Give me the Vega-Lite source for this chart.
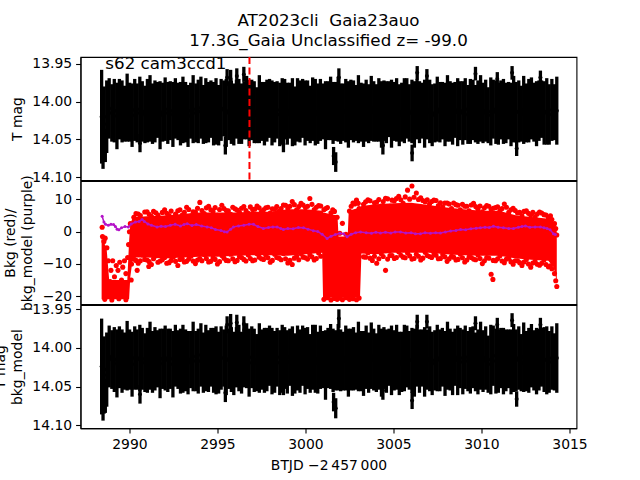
{
"$schema":"https://vega.github.io/schema/vega-lite/v6.json",
"background":"white",
"padding":{"left":-7.5,"top":13,"right":0,"bottom":0},
"bounds":"flush",
"spacing":0,
"title":{"text":["AT2023cli \u00a0Gaia23auo","17.3G_Gaia Unclassified z= -99.0"],"anchor":"middle","frame":"group","fontSize":16.7,"font":"DejaVu Sans","fontWeight":"normal","lineHeight":20,"offset":5.5,"color":"black"},
"datasets":{
"lc":[
{"t":2988.42,"m":14.020,"e":0.062,"n":14.024},{"t":2988.56,"m":14.030,"e":0.050,"n":14.035},{"t":2988.71,"m":14.020,"e":0.048,"n":14.028},{"t":2988.85,"m":14.009,"e":0.040,"n":14.011},{"t":2989.00,"m":14.015,"e":0.038,"n":14.015},
{"t":2989.14,"m":14.012,"e":0.042,"n":14.015},{"t":2989.29,"m":14.019,"e":0.044,"n":14.020},{"t":2989.43,"m":14.010,"e":0.040,"n":14.012},{"t":2989.58,"m":14.013,"e":0.041,"n":14.017},{"t":2989.72,"m":14.016,"e":0.037,"n":14.017},
{"t":2989.87,"m":14.008,"e":0.045,"n":14.010},{"t":2990.01,"m":14.014,"e":0.039,"n":14.015},{"t":2990.15,"m":14.018,"e":0.042,"n":14.021},{"t":2990.30,"m":14.011,"e":0.041,"n":14.013},{"t":2990.44,"m":14.015,"e":0.039,"n":14.015},
{"t":2990.59,"m":14.010,"e":0.043,"n":14.013},{"t":2990.73,"m":14.013,"e":0.040,"n":14.014},{"t":2990.88,"m":14.017,"e":0.038,"n":14.019},{"t":2991.02,"m":14.012,"e":0.042,"n":14.016},{"t":2991.17,"m":14.009,"e":0.044,"n":14.010},
{"t":2991.31,"m":14.016,"e":0.040,"n":14.018},{"t":2991.45,"m":14.013,"e":0.041,"n":14.014},{"t":2991.60,"m":14.011,"e":0.037,"n":14.014},{"t":2991.74,"m":14.018,"e":0.045,"n":14.020},{"t":2991.89,"m":14.014,"e":0.039,"n":14.014},
{"t":2992.03,"m":14.010,"e":0.042,"n":14.013},{"t":2992.18,"m":14.015,"e":0.041,"n":14.016},{"t":2992.32,"m":14.012,"e":0.039,"n":14.014},{"t":2992.47,"m":14.017,"e":0.043,"n":14.021},{"t":2992.61,"m":14.009,"e":0.040,"n":14.010},
{"t":2992.76,"m":14.013,"e":0.038,"n":14.015},{"t":2992.90,"m":14.016,"e":0.042,"n":14.017},{"t":2993.04,"m":14.011,"e":0.044,"n":14.014},{"t":2993.19,"m":14.014,"e":0.040,"n":14.016},{"t":2993.33,"m":14.019,"e":0.041,"n":14.019},
{"t":2993.48,"m":14.012,"e":0.037,"n":14.015},{"t":2993.62,"m":14.010,"e":0.045,"n":14.011},{"t":2993.77,"m":14.015,"e":0.039,"n":14.017},{"t":2993.91,"m":14.013,"e":0.042,"n":14.017},{"t":2994.06,"m":14.008,"e":0.041,"n":14.009},
{"t":2994.20,"m":14.017,"e":0.039,"n":14.019},{"t":2994.34,"m":14.012,"e":0.043,"n":14.013},{"t":2994.49,"m":14.014,"e":0.040,"n":14.017},{"t":2994.63,"m":14.010,"e":0.038,"n":14.012},{"t":2994.78,"m":14.016,"e":0.042,"n":14.016},
{"t":2994.92,"m":14.013,"e":0.044,"n":14.016},{"t":2995.07,"m":14.018,"e":0.040,"n":14.019},{"t":2995.21,"m":14.011,"e":0.041,"n":14.013},{"t":2995.36,"m":14.009,"e":0.037,"n":14.013},{"t":2995.50,"m":14.015,"e":0.045,"n":14.016},
{"t":2995.65,"m":14.012,"e":0.039,"n":14.014},{"t":2995.79,"m":14.014,"e":0.042,"n":14.015},{"t":2995.93,"m":14.017,"e":0.041,"n":14.020},{"t":2996.08,"m":14.010,"e":0.039,"n":14.012},{"t":2996.22,"m":14.013,"e":0.043,"n":14.013},
{"t":2996.37,"m":14.016,"e":0.040,"n":14.019},{"t":2996.51,"m":14.012,"e":0.038,"n":14.013},{"t":2996.66,"m":14.008,"e":0.042,"n":14.010},{"t":2996.80,"m":14.015,"e":0.044,"n":14.019},{"t":2996.95,"m":14.011,"e":0.040,"n":14.012},
{"t":2997.09,"m":14.014,"e":0.041,"n":14.016},{"t":2997.23,"m":14.018,"e":0.037,"n":14.019},{"t":2997.38,"m":14.010,"e":0.045,"n":14.013},{"t":2997.52,"m":14.013,"e":0.039,"n":14.015},{"t":2997.67,"m":14.016,"e":0.042,"n":14.016},
{"t":2997.81,"m":14.012,"e":0.041,"n":14.015},{"t":2997.96,"m":14.009,"e":0.039,"n":14.010},{"t":2998.10,"m":14.015,"e":0.043,"n":14.017},{"t":2998.25,"m":14.014,"e":0.040,"n":14.018},{"t":2998.39,"m":14.011,"e":0.038,"n":14.012},
{"t":2998.54,"m":14.017,"e":0.042,"n":14.019},{"t":2998.68,"m":14.013,"e":0.044,"n":14.014},{"t":2998.82,"m":14.010,"e":0.040,"n":14.013},{"t":2998.97,"m":14.016,"e":0.041,"n":14.018},{"t":2999.11,"m":14.012,"e":0.037,"n":14.012},
{"t":2999.26,"m":14.014,"e":0.045,"n":14.017},{"t":2999.40,"m":14.019,"e":0.039,"n":14.020},{"t":2999.55,"m":14.011,"e":0.042,"n":14.013},{"t":2999.69,"m":14.013,"e":0.041,"n":14.017},{"t":2999.84,"m":14.009,"e":0.039,"n":14.010},
{"t":2999.98,"m":14.015,"e":0.043,"n":14.017},{"t":3000.12,"m":14.012,"e":0.040,"n":14.013},{"t":3000.27,"m":14.017,"e":0.038,"n":14.020},{"t":3000.41,"m":14.010,"e":0.042,"n":14.012},{"t":3000.56,"m":14.014,"e":0.044,"n":14.014},
{"t":3000.70,"m":14.016,"e":0.040,"n":14.019},{"t":3000.85,"m":14.011,"e":0.041,"n":14.012},{"t":3000.99,"m":14.013,"e":0.037,"n":14.015},{"t":3001.14,"m":14.018,"e":0.045,"n":14.022},{"t":3001.28,"m":14.012,"e":0.039,"n":14.013},
{"t":3001.43,"m":14.009,"e":0.042,"n":14.011},{"t":3001.57,"m":14.015,"e":0.041,"n":14.016},{"t":3001.71,"m":14.013,"e":0.039,"n":14.016},{"t":3001.86,"m":14.010,"e":0.043,"n":14.012},{"t":3002.00,"m":14.016,"e":0.040,"n":14.016},
{"t":3002.15,"m":14.014,"e":0.038,"n":14.017},{"t":3002.29,"m":14.012,"e":0.042,"n":14.013},{"t":3002.44,"m":14.017,"e":0.044,"n":14.019},{"t":3002.58,"m":14.011,"e":0.040,"n":14.015},{"t":3002.73,"m":14.013,"e":0.041,"n":14.014},
{"t":3002.87,"m":14.015,"e":0.037,"n":14.017},{"t":3003.01,"m":14.010,"e":0.045,"n":14.011},{"t":3003.16,"m":14.014,"e":0.039,"n":14.017},{"t":3003.30,"m":14.018,"e":0.042,"n":14.020},{"t":3003.45,"m":14.012,"e":0.041,"n":14.012},
{"t":3003.59,"m":14.016,"e":0.039,"n":14.019},{"t":3003.74,"m":14.009,"e":0.043,"n":14.010},{"t":3003.88,"m":14.013,"e":0.040,"n":14.015},{"t":3004.03,"m":14.015,"e":0.038,"n":14.019},{"t":3004.17,"m":14.011,"e":0.042,"n":14.012},
{"t":3004.32,"m":14.017,"e":0.044,"n":14.019},{"t":3004.46,"m":14.012,"e":0.040,"n":14.013},{"t":3004.60,"m":14.014,"e":0.041,"n":14.017},{"t":3004.75,"m":14.010,"e":0.037,"n":14.012},{"t":3004.89,"m":14.016,"e":0.045,"n":14.016},
{"t":3005.04,"m":14.013,"e":0.039,"n":14.016},{"t":3005.18,"m":14.011,"e":0.042,"n":14.012},{"t":3005.33,"m":14.018,"e":0.041,"n":14.020},{"t":3005.47,"m":14.014,"e":0.039,"n":14.018},{"t":3005.62,"m":14.012,"e":0.043,"n":14.013},
{"t":3005.76,"m":14.009,"e":0.040,"n":14.011},{"t":3005.90,"m":14.015,"e":0.038,"n":14.016},{"t":3006.05,"m":14.013,"e":0.042,"n":14.016},{"t":3006.19,"m":14.017,"e":0.044,"n":14.019},{"t":3006.34,"m":14.010,"e":0.040,"n":14.010},
{"t":3006.48,"m":14.014,"e":0.041,"n":14.017},{"t":3006.63,"m":14.012,"e":0.037,"n":14.013},{"t":3006.77,"m":14.016,"e":0.045,"n":14.018},{"t":3006.92,"m":14.011,"e":0.039,"n":14.015},{"t":3007.06,"m":14.013,"e":0.042,"n":14.014},
{"t":3007.20,"m":14.018,"e":0.041,"n":14.020},{"t":3007.35,"m":14.015,"e":0.039,"n":14.016},{"t":3007.49,"m":14.010,"e":0.043,"n":14.013},{"t":3007.64,"m":14.014,"e":0.040,"n":14.016},{"t":3007.78,"m":14.012,"e":0.038,"n":14.012},
{"t":3007.93,"m":14.017,"e":0.042,"n":14.020},{"t":3008.07,"m":14.009,"e":0.044,"n":14.010},{"t":3008.22,"m":14.013,"e":0.040,"n":14.015},{"t":3008.36,"m":14.016,"e":0.041,"n":14.020},{"t":3008.50,"m":14.011,"e":0.037,"n":14.012},
{"t":3008.65,"m":14.014,"e":0.045,"n":14.016},{"t":3008.79,"m":14.012,"e":0.039,"n":14.013},{"t":3008.94,"m":14.015,"e":0.042,"n":14.018},{"t":3009.08,"m":14.010,"e":0.041,"n":14.012},{"t":3009.23,"m":14.017,"e":0.039,"n":14.017},
{"t":3009.37,"m":14.013,"e":0.043,"n":14.016},{"t":3009.52,"m":14.011,"e":0.040,"n":14.012},{"t":3009.66,"m":14.016,"e":0.038,"n":14.018},{"t":3009.80,"m":14.014,"e":0.042,"n":14.018},{"t":3009.95,"m":14.009,"e":0.044,"n":14.010},
{"t":3010.09,"m":14.015,"e":0.040,"n":14.017},{"t":3010.24,"m":14.012,"e":0.041,"n":14.013},{"t":3010.38,"m":14.018,"e":0.037,"n":14.021},{"t":3010.53,"m":14.013,"e":0.045,"n":14.015},{"t":3010.67,"m":14.010,"e":0.039,"n":14.010},
{"t":3010.82,"m":14.014,"e":0.042,"n":14.017},{"t":3010.96,"m":14.016,"e":0.041,"n":14.017},{"t":3011.10,"m":14.011,"e":0.039,"n":14.013},{"t":3011.25,"m":14.013,"e":0.043,"n":14.017},{"t":3011.39,"m":14.015,"e":0.040,"n":14.016},
{"t":3011.54,"m":14.012,"e":0.038,"n":14.014},{"t":3011.68,"m":14.017,"e":0.042,"n":14.018},{"t":3011.83,"m":14.010,"e":0.044,"n":14.013},{"t":3011.97,"m":14.014,"e":0.040,"n":14.016},{"t":3012.12,"m":14.013,"e":0.041,"n":14.013},
{"t":3012.26,"m":14.016,"e":0.037,"n":14.019},{"t":3012.40,"m":14.011,"e":0.045,"n":14.012},{"t":3012.55,"m":14.015,"e":0.039,"n":14.017},{"t":3012.69,"m":14.012,"e":0.042,"n":14.016},{"t":3012.84,"m":14.009,"e":0.041,"n":14.010},
{"t":3012.98,"m":14.014,"e":0.039,"n":14.016},{"t":3013.13,"m":14.016,"e":0.043,"n":14.017},{"t":3013.27,"m":14.012,"e":0.040,"n":14.015},{"t":3013.42,"m":14.010,"e":0.038,"n":14.012},{"t":3013.56,"m":14.015,"e":0.042,"n":14.015},
{"t":3013.71,"m":14.013,"e":0.044,"n":14.016},{"t":3013.85,"m":14.017,"e":0.040,"n":14.018},{"t":3014.00,"m":14.011,"e":0.041,"n":14.013},{"t":3014.14,"m":14.014,"e":0.037,"n":14.018},{"t":3014.28,"m":14.012,"e":0.045,"n":14.013},
{"t":2988.50,"m":14.065,"e":0.024,"n":14.070},{"t":2988.63,"m":14.058,"e":0.022,"n":14.062},{"t":2990.60,"m":14.055,"e":0.012,"n":14.060},{"t":2995.45,"m":14.058,"e":0.012,"n":14.058},{"t":2995.55,"m":13.968,"e":0.011,"n":13.970},
{"t":2995.75,"m":13.970,"e":0.012,"n":13.968},{"t":2996.10,"m":13.966,"e":0.010,"n":13.967},{"t":2996.50,"m":13.964,"e":0.010,"n":13.969},{"t":2998.75,"m":14.056,"e":0.011,"n":14.050},{"t":3001.60,"m":14.072,"e":0.012,"n":14.070},
{"t":3001.72,"m":14.080,"e":0.013,"n":14.078},{"t":3001.90,"m":13.968,"e":0.012,"n":13.962},{"t":3004.40,"m":14.058,"e":0.012,"n":14.055},{"t":3006.06,"m":14.068,"e":0.011,"n":14.068},{"t":3006.35,"m":13.962,"e":0.009,"n":13.966},
{"t":3006.90,"m":13.966,"e":0.009,"n":13.966},{"t":3009.66,"m":13.963,"e":0.009,"n":13.968},{"t":3010.90,"m":13.970,"e":0.009,"n":13.970},{"t":3011.74,"m":13.962,"e":0.009,"n":13.964},{"t":3012.00,"m":14.062,"e":0.010,"n":14.066},
{"t":3013.35,"m":13.968,"e":0.009,"n":13.970}
],
"band":[
{"t":2988.42,"lo":-21.0,"hi":-2.0},{"t":2988.70,"lo":-21.0,"hi":-5.0},{"t":2988.85,"lo":-21.0,"hi":-15.0},{"t":2989.88,"lo":-21.0,"hi":-15.0},{"t":2989.98,"lo":-21.0,"hi":-3.0},
{"t":2990.05,"lo":-14.0,"hi":2.5},{"t":2990.20,"lo":-8.0,"hi":4.5},{"t":2991.0,"lo":-8.0,"hi":4.8},{"t":2992.0,"lo":-8.3,"hi":5.0},{"t":2993.0,"lo":-8.0,"hi":5.5},
{"t":2994.0,"lo":-7.8,"hi":6.0},{"t":2995.0,"lo":-7.8,"hi":6.0},{"t":2996.0,"lo":-7.5,"hi":6.0},{"t":2997.0,"lo":-7.3,"hi":6.2},{"t":2998.0,"lo":-7.3,"hi":6.2},
{"t":2999.0,"lo":-7.5,"hi":7.0},{"t":3000.0,"lo":-7.0,"hi":7.0},{"t":3000.95,"lo":-6.5,"hi":6.5},{"t":3001.00,"lo":-20.5,"hi":6.0},{"t":3001.82,"lo":-20.5,"hi":5.0},
{"t":3001.88,"lo":-20.5,"hi":-1.5},{"t":3002.40,"lo":-20.5,"hi":-1.5},{"t":3002.46,"lo":-20.5,"hi":6.5},{"t":3003.10,"lo":-20.5,"hi":7.5},{"t":3003.18,"lo":-6.8,"hi":8.0},
{"t":3004.0,"lo":-7.0,"hi":8.5},{"t":3005.0,"lo":-6.5,"hi":8.8},{"t":3006.0,"lo":-6.5,"hi":9.0},{"t":3007.0,"lo":-6.5,"hi":8.3},{"t":3008.0,"lo":-7.0,"hi":7.5},
{"t":3009.0,"lo":-7.3,"hi":7.0},{"t":3010.0,"lo":-7.5,"hi":6.5},{"t":3011.0,"lo":-7.5,"hi":6.5},{"t":3012.0,"lo":-8.3,"hi":5.0},{"t":3013.0,"lo":-8.8,"hi":4.5},
{"t":3013.8,"lo":-9.0,"hi":4.0},{"t":3014.1,"lo":-11.0,"hi":3.0},{"t":3014.28,"lo":-15.5,"hi":0.0}
],
"bkg":[
{"t":2988.45,"b":1.4},{"t":2988.47,"b":-1.5},{"t":2988.55,"b":-3.0},{"t":2988.62,"b":-2.0},{"t":2988.72,"b":-5.0},{"t":2988.80,"b":-9.0},{"t":2988.95,"b":-12.0},{"t":2989.05,"b":-9.0},
{"t":2989.15,"b":-14.0},{"t":2989.25,"b":-10.5},{"t":2989.35,"b":-12.0},{"t":2989.45,"b":-9.5},{"t":2989.55,"b":-15.0},{"t":2989.62,"b":-11.0},{"t":2989.72,"b":-9.0},{"t":2989.80,"b":-13.0},
{"t":2989.90,"b":-8.0},{"t":2989.95,"b":-4.0},{"t":2990.00,"b":0.0},{"t":2990.05,"b":2.5},{"t":2989.10,"b":-17.0},{"t":2989.50,"b":-17.0},{"t":2988.90,"b":-15.5},{"t":2989.70,"b":-16.5},
{"t":2988.60,"b":-21.0},{"t":2989.00,"b":-21.2},{"t":2989.40,"b":-20.8},{"t":2989.80,"b":-21.1},{"t":2990.10,"b":-15.0},{"t":2990.12,"b":-10.0},{"t":2990.44,"b":-12.0},{"t":2991.10,"b":-10.8},
{"t":2990.25,"b":4.5},{"t":2990.25,"b":-8.5},{"t":2990.50,"b":5.5},{"t":2990.50,"b":-9.8},{"t":2990.75,"b":3.8},{"t":2990.75,"b":-7.2},{"t":2991.00,"b":6.2},{"t":2991.00,"b":-8.8},
{"t":2991.25,"b":4.8},{"t":2991.25,"b":-10.2},{"t":2991.50,"b":5.9},{"t":2991.50,"b":-7.5},{"t":2991.75,"b":4.2},{"t":2991.75,"b":-9.1},{"t":2992.00,"b":6.8},{"t":2992.00,"b":-8.0},
{"t":2992.25,"b":5.0},{"t":2992.25,"b":-9.6},{"t":2992.50,"b":4.4},{"t":2992.50,"b":-7.8},{"t":2992.75,"b":6.5},{"t":2992.75,"b":-10.5},{"t":2993.00,"b":5.2},{"t":2993.00,"b":-8.4},
{"t":2993.25,"b":7.6},{"t":2993.25,"b":-9.2},{"t":2993.50,"b":4.9},{"t":2993.50,"b":-7.6},{"t":2993.75,"b":6.1},{"t":2993.75,"b":-9.9},{"t":2994.00,"b":9.1},{"t":2994.00,"b":-8.3},
{"t":2994.25,"b":5.6},{"t":2994.25,"b":-7.1},{"t":2994.50,"b":7.9},{"t":2994.50,"b":-9.4},{"t":2994.75,"b":6.3},{"t":2994.75,"b":-8.1},{"t":2995.00,"b":5.1},{"t":2995.00,"b":-10.0},
{"t":2995.25,"b":8.2},{"t":2995.25,"b":-7.4},{"t":2995.50,"b":6.6},{"t":2995.50,"b":-8.9},{"t":2995.75,"b":5.4},{"t":2995.75,"b":-7.0},{"t":2996.00,"b":7.1},{"t":2996.00,"b":-9.3},
{"t":2996.25,"b":6.0},{"t":2996.25,"b":-7.7},{"t":2996.50,"b":7.8},{"t":2996.50,"b":-8.6},{"t":2996.75,"b":5.7},{"t":2996.75,"b":-7.2},{"t":2997.00,"b":6.9},{"t":2997.00,"b":-9.0},
{"t":2997.25,"b":8.0},{"t":2997.25,"b":-6.9},{"t":2997.50,"b":6.2},{"t":2997.50,"b":-8.4},{"t":2997.75,"b":7.4},{"t":2997.75,"b":-7.3},{"t":2998.00,"b":5.8},{"t":2998.00,"b":-9.5},
{"t":2998.25,"b":7.0},{"t":2998.25,"b":-7.0},{"t":2998.50,"b":6.4},{"t":2998.50,"b":-8.2},{"t":2998.75,"b":8.3},{"t":2998.75,"b":-6.8},{"t":2999.00,"b":7.2},{"t":2999.00,"b":-9.7},
{"t":2999.25,"b":9.4},{"t":2999.25,"b":-10.2},{"t":2999.50,"b":6.8},{"t":2999.50,"b":-7.6},{"t":2999.75,"b":8.8},{"t":2999.75,"b":-6.9},{"t":3000.00,"b":7.5},{"t":3000.00,"b":-8.1},
{"t":3000.25,"b":10.3},{"t":3000.25,"b":-7.2},{"t":3000.50,"b":6.9},{"t":3000.50,"b":-8.8},{"t":3000.75,"b":8.1},{"t":3000.75,"b":-6.6},
{"t":3001.05,"b":6.8},{"t":3001.05,"b":-21.0},{"t":3001.25,"b":7.5},{"t":3001.25,"b":-20.5},{"t":3001.45,"b":5.9},{"t":3001.45,"b":-21.2},{"t":3001.65,"b":6.3},{"t":3001.65,"b":-20.7},
{"t":3001.80,"b":4.5},{"t":3001.80,"b":-21.0},{"t":3001.95,"b":-0.5},{"t":3001.95,"b":-20.6},{"t":3002.10,"b":2.6},{"t":3002.10,"b":-21.1},{"t":3002.30,"b":-0.8},{"t":3002.30,"b":-20.5},
{"t":3002.50,"b":6.4},{"t":3002.50,"b":-21.0},{"t":3002.70,"b":8.9},{"t":3002.70,"b":-20.8},{"t":3002.90,"b":9.8},{"t":3002.90,"b":-21.1},{"t":3003.05,"b":7.2},{"t":3003.05,"b":-20.6},
{"t":3003.30,"b":8.5},{"t":3003.30,"b":-7.8},{"t":3003.55,"b":9.9},{"t":3003.55,"b":-6.5},{"t":3003.80,"b":7.6},{"t":3003.80,"b":-8.9},{"t":3004.05,"b":9.2},{"t":3004.05,"b":-9.8},
{"t":3004.30,"b":8.0},{"t":3004.30,"b":-6.8},{"t":3004.55,"b":10.4},{"t":3004.55,"b":-12.0},{"t":3004.80,"b":7.9},{"t":3004.80,"b":-7.4},{"t":3005.05,"b":9.6},{"t":3005.05,"b":-8.3},
{"t":3005.30,"b":11.0},{"t":3005.30,"b":-6.2},{"t":3005.55,"b":8.8},{"t":3005.55,"b":-7.9},{"t":3005.80,"b":12.9},{"t":3005.80,"b":-6.6},{"t":3006.05,"b":14.2},{"t":3006.05,"b":-8.5},
{"t":3006.30,"b":12.0},{"t":3006.30,"b":-7.0},{"t":3006.55,"b":10.5},{"t":3006.55,"b":-8.8},{"t":3006.80,"b":9.3},{"t":3006.80,"b":-6.4},{"t":3007.05,"b":8.6},{"t":3007.05,"b":-7.7},
{"t":3007.30,"b":9.8},{"t":3007.30,"b":-6.9},{"t":3007.55,"b":8.1},{"t":3007.55,"b":-8.4},{"t":3007.80,"b":7.7},{"t":3007.80,"b":-7.1},{"t":3008.05,"b":8.9},{"t":3008.05,"b":-9.2},
{"t":3008.30,"b":7.2},{"t":3008.30,"b":-7.6},{"t":3008.55,"b":8.4},{"t":3008.55,"b":-8.8},{"t":3008.80,"b":6.8},{"t":3008.80,"b":-7.0},{"t":3009.05,"b":7.9},{"t":3009.05,"b":-9.4},
{"t":3009.30,"b":6.5},{"t":3009.30,"b":-7.8},{"t":3009.55,"b":8.8},{"t":3009.55,"b":-8.5},{"t":3009.80,"b":7.0},{"t":3009.80,"b":-7.2},{"t":3010.05,"b":6.2},{"t":3010.05,"b":-9.9},
{"t":3010.30,"b":8.1},{"t":3010.30,"b":-8.0},{"t":3010.55,"b":6.9},{"t":3010.55,"b":-13.2},{"t":3010.65,"b":5.6},{"t":3010.65,"b":-14.8},{"t":3010.80,"b":7.5},{"t":3010.80,"b":-9.0},
{"t":3011.05,"b":6.4},{"t":3011.05,"b":-7.5},{"t":3011.30,"b":8.6},{"t":3011.30,"b":-9.6},{"t":3011.55,"b":6.0},{"t":3011.55,"b":-8.2},{"t":3011.80,"b":7.3},{"t":3011.80,"b":-10.1},
{"t":3012.05,"b":5.8},{"t":3012.05,"b":-9.0},{"t":3012.30,"b":4.9},{"t":3012.30,"b":-10.5},{"t":3012.55,"b":6.5},{"t":3012.55,"b":-8.6},{"t":3012.80,"b":5.2},{"t":3012.80,"b":-11.0},
{"t":3013.05,"b":4.6},{"t":3013.05,"b":-9.3},{"t":3013.30,"b":6.1},{"t":3013.30,"b":-10.4},{"t":3013.55,"b":5.3},{"t":3013.55,"b":-8.8},{"t":3013.80,"b":4.4},{"t":3013.80,"b":-10.9},
{"t":3014.00,"b":3.8},{"t":3014.00,"b":-11.5},{"t":3014.15,"b":2.5},{"t":3014.15,"b":-13.0},{"t":3014.22,"b":1.0},{"t":3014.22,"b":-15.2},{"t":3014.28,"b":-1.0},{"t":3014.28,"b":-17.0},
{"t":2990.37,"b":5.6},{"t":2990.37,"b":-8.9},{"t":2990.62,"b":5.0},{"t":2990.62,"b":-9.0},{"t":2990.87,"b":6.1},{"t":2990.87,"b":-8.6},{"t":2991.12,"b":5.4},{"t":2991.12,"b":-9.3},
{"t":2991.37,"b":6.3},{"t":2991.37,"b":-8.4},{"t":2991.62,"b":5.2},{"t":2991.62,"b":-9.5},{"t":2991.87,"b":6.0},{"t":2991.87,"b":-8.7},{"t":2992.12,"b":5.7},{"t":2992.12,"b":-9.8},
{"t":2992.37,"b":6.4},{"t":2992.37,"b":-8.9},{"t":2992.62,"b":5.5},{"t":2992.62,"b":-9.2},{"t":2992.87,"b":6.8},{"t":2992.87,"b":-8.6},{"t":2993.12,"b":6.0},{"t":2993.12,"b":-9.4},
{"t":2993.37,"b":6.9},{"t":2993.37,"b":-8.5},{"t":2993.62,"b":6.2},{"t":2993.62,"b":-9.1},{"t":2993.87,"b":7.3},{"t":2993.87,"b":-8.8},{"t":2994.12,"b":6.6},{"t":2994.12,"b":-9.0},
{"t":2994.37,"b":7.4},{"t":2994.37,"b":-8.3},{"t":2994.62,"b":6.8},{"t":2994.62,"b":-9.2},{"t":2994.87,"b":7.5},{"t":2994.87,"b":-8.6},{"t":2995.12,"b":6.9},{"t":2995.12,"b":-9.3},
{"t":2995.37,"b":7.2},{"t":2995.37,"b":-8.2},{"t":2995.62,"b":6.5},{"t":2995.62,"b":-9.0},{"t":2995.87,"b":7.6},{"t":2995.87,"b":-8.4},{"t":2996.12,"b":6.7},{"t":2996.12,"b":-8.9},
{"t":2996.37,"b":7.3},{"t":2996.37,"b":-8.0},{"t":2996.62,"b":6.6},{"t":2996.62,"b":-9.1},{"t":2996.87,"b":7.7},{"t":2996.87,"b":-8.3},{"t":2997.12,"b":7.0},{"t":2997.12,"b":-8.8},
{"t":2997.37,"b":7.4},{"t":2997.37,"b":-7.9},{"t":2997.62,"b":6.8},{"t":2997.62,"b":-8.6},{"t":2997.87,"b":7.6},{"t":2997.87,"b":-8.1},{"t":2998.12,"b":7.1},{"t":2998.12,"b":-8.9},
{"t":2998.37,"b":7.8},{"t":2998.37,"b":-8.0},{"t":2998.62,"b":7.2},{"t":2998.62,"b":-8.7},{"t":2998.87,"b":8.2},{"t":2998.87,"b":-8.4},{"t":2999.12,"b":7.9},{"t":2999.12,"b":-8.9},
{"t":2999.37,"b":8.4},{"t":2999.37,"b":-8.2},{"t":2999.62,"b":7.8},{"t":2999.62,"b":-8.7},{"t":2999.87,"b":8.3},{"t":2999.87,"b":-7.9},{"t":3000.12,"b":7.9},{"t":3000.12,"b":-8.5},
{"t":3000.37,"b":8.5},{"t":3000.37,"b":-7.8},{"t":3000.62,"b":7.6},{"t":3000.62,"b":-8.3},{"t":3000.87,"b":8.0},{"t":3000.87,"b":-7.6},
{"t":3001.15,"b":7.2},{"t":3001.55,"b":6.8},{"t":3002.60,"b":7.9},{"t":3002.80,"b":8.6},{"t":3003.00,"b":8.8},
{"t":3003.42,"b":9.3},{"t":3003.42,"b":-7.9},{"t":3003.67,"b":9.6},{"t":3003.67,"b":-8.2},{"t":3003.92,"b":9.0},{"t":3003.92,"b":-7.6},{"t":3004.17,"b":10.0},{"t":3004.17,"b":-8.4},
{"t":3004.42,"b":9.4},{"t":3004.42,"b":-7.7},{"t":3004.67,"b":10.2},{"t":3004.67,"b":-8.5},{"t":3004.92,"b":9.8},{"t":3004.92,"b":-7.4},{"t":3005.17,"b":10.3},{"t":3005.17,"b":-8.0},
{"t":3005.42,"b":9.9},{"t":3005.42,"b":-7.3},{"t":3005.67,"b":10.8},{"t":3005.67,"b":-8.1},{"t":3005.92,"b":10.1},{"t":3005.92,"b":-7.5},{"t":3006.17,"b":10.7},{"t":3006.17,"b":-8.3},
{"t":3006.42,"b":10.0},{"t":3006.42,"b":-7.6},{"t":3006.67,"b":9.7},{"t":3006.67,"b":-8.2},{"t":3006.92,"b":9.9},{"t":3006.92,"b":-7.4},{"t":3007.17,"b":9.4},{"t":3007.17,"b":-8.0},
{"t":3007.42,"b":9.7},{"t":3007.42,"b":-7.3},{"t":3007.67,"b":9.0},{"t":3007.67,"b":-8.3},{"t":3007.92,"b":8.9},{"t":3007.92,"b":-7.8},{"t":3008.17,"b":8.6},{"t":3008.17,"b":-8.4},
{"t":3008.42,"b":8.9},{"t":3008.42,"b":-7.9},{"t":3008.67,"b":8.2},{"t":3008.67,"b":-8.6},{"t":3008.92,"b":8.5},{"t":3008.92,"b":-8.1},{"t":3009.17,"b":7.9},{"t":3009.17,"b":-8.8},
{"t":3009.42,"b":8.3},{"t":3009.42,"b":-8.0},{"t":3009.67,"b":7.8},{"t":3009.67,"b":-8.7},{"t":3009.92,"b":8.0},{"t":3009.92,"b":-8.3},{"t":3010.17,"b":7.4},{"t":3010.17,"b":-9.0},
{"t":3010.42,"b":7.9},{"t":3010.42,"b":-8.2},{"t":3010.67,"b":7.3},{"t":3010.67,"b":-8.9},{"t":3010.92,"b":7.7},{"t":3010.92,"b":-8.4},{"t":3011.17,"b":7.2},{"t":3011.17,"b":-9.1},
{"t":3011.42,"b":7.6},{"t":3011.42,"b":-8.5},{"t":3011.67,"b":6.8},{"t":3011.67,"b":-9.3},{"t":3011.92,"b":6.6},{"t":3011.92,"b":-9.0},{"t":3012.17,"b":6.0},{"t":3012.17,"b":-9.6},
{"t":3012.42,"b":6.3},{"t":3012.42,"b":-9.4},{"t":3012.67,"b":5.7},{"t":3012.67,"b":-10.0},{"t":3012.92,"b":6.0},{"t":3012.92,"b":-9.7},{"t":3013.17,"b":5.5},{"t":3013.17,"b":-10.1},
{"t":3013.42,"b":5.8},{"t":3013.42,"b":-9.8},{"t":3013.67,"b":5.2},{"t":3013.67,"b":-10.2},{"t":3013.92,"b":4.9},{"t":3013.92,"b":-10.6}
],
"model":[
{"t":2988.45,"v":4.8},{"t":2988.55,"v":3.0},{"t":2988.64,"v":2.3},{"t":2988.80,"v":2.0},{"t":2988.95,"v":2.3},{"t":2989.10,"v":2.2},{"t":2989.20,"v":1.6},{"t":2989.30,"v":0.8},
{"t":2989.40,"v":0.6},{"t":2989.55,"v":1.2},{"t":2989.75,"v":1.6},{"t":2989.94,"v":1.5},{"t":2990.10,"v":2.4},{"t":2990.34,"v":3.0},{"t":2990.55,"v":3.2},{"t":2990.72,"v":3.8},
{"t":2990.85,"v":3.2},{"t":2991.05,"v":2.4},{"t":2991.25,"v":2.0},{"t":2991.57,"v":1.5},{"t":2991.80,"v":1.7},{"t":2992.05,"v":1.6},{"t":2992.33,"v":2.0},{"t":2992.60,"v":2.3},
{"t":2992.90,"v":1.8},{"t":2993.10,"v":2.2},{"t":2993.28,"v":2.5},{"t":2993.55,"v":1.9},{"t":2993.80,"v":2.2},{"t":2994.10,"v":1.8},{"t":2994.41,"v":1.5},{"t":2994.65,"v":1.2},
{"t":2994.89,"v":0.7},{"t":2995.20,"v":0.4},{"t":2995.40,"v":0.0},{"t":2995.55,"v":-0.1},{"t":2995.75,"v":0.8},{"t":2995.91,"v":1.5},{"t":2996.20,"v":1.8},{"t":2996.50,"v":2.0},
{"t":2996.80,"v":2.3},{"t":2997.05,"v":2.3},{"t":2997.30,"v":1.6},{"t":2997.61,"v":1.0},{"t":2997.90,"v":1.3},{"t":2998.15,"v":1.5},{"t":2998.39,"v":1.5},{"t":2998.60,"v":1.0},
{"t":2998.75,"v":0.7},{"t":2999.00,"v":1.0},{"t":2999.30,"v":0.9},{"t":2999.60,"v":1.3},{"t":2999.89,"v":1.2},{"t":3000.15,"v":0.8},{"t":3000.45,"v":0.3},{"t":3000.70,"v":0.1},
{"t":3000.95,"v":-0.8},{"t":3001.23,"v":-2.1},{"t":3001.45,"v":-1.4},{"t":3001.70,"v":-0.9},{"t":3001.95,"v":-0.5},{"t":3002.16,"v":-0.6},{"t":3002.37,"v":-1.6},{"t":3002.60,"v":-0.8},
{"t":3002.85,"v":-0.3},{"t":3003.13,"v":-0.1},{"t":3003.45,"v":-0.3},{"t":3003.75,"v":-0.5},{"t":3004.00,"v":-0.2},{"t":3004.26,"v":-0.4},{"t":3004.55,"v":-0.2},{"t":3004.85,"v":-0.4},
{"t":3005.10,"v":-0.1},{"t":3005.40,"v":-0.1},{"t":3005.70,"v":-0.4},{"t":3006.00,"v":-0.3},{"t":3006.25,"v":-0.6},{"t":3006.53,"v":-0.6},{"t":3006.80,"v":-0.3},{"t":3007.10,"v":-0.5},
{"t":3007.40,"v":-0.3},{"t":3007.67,"v":-0.4},{"t":3007.95,"v":-0.1},{"t":3008.25,"v":0.2},{"t":3008.55,"v":0.4},{"t":3008.81,"v":0.7},{"t":3009.10,"v":0.6},{"t":3009.40,"v":0.9},
{"t":3009.70,"v":1.1},{"t":3009.94,"v":1.2},{"t":3010.20,"v":1.4},{"t":3010.45,"v":1.3},{"t":3010.68,"v":1.7},{"t":3010.95,"v":1.4},{"t":3011.25,"v":1.2},{"t":3011.55,"v":1.0},
{"t":3011.82,"v":1.0},{"t":3012.10,"v":1.4},{"t":3012.30,"v":1.6},{"t":3012.50,"v":1.8},{"t":3012.75,"v":1.4},{"t":3013.05,"v":1.5},{"t":3013.35,"v":1.5},{"t":3013.55,"v":1.2},
{"t":3013.73,"v":1.0},{"t":3013.90,"v":0.6},{"t":3014.09,"v":-0.6},{"t":3014.20,"v":-0.9}
],
"vline":[{"t":2996.82}],
"label":[{"t":2988.63,"m":13.957,"text":"s62 cam3ccd1"}]
},
"vconcat":[
{
"width":496,"height":123.2,
"layer":[
{"data":{"name":"lc"},"mark":{"type":"errorbar","color":"black","thickness":3.3},
 "encoding":{"x":{"field":"t","type":"quantitative","title":"t","scale":{"domain":[2987.22,3015.4],"nice":false,"zero":false},"axis":null},
 "y":{"field":"m","type":"quantitative","title":"T mag","scale":{"domain":[13.941,14.104],"reverse":true,"nice":false,"zero":false},
  "axis":{"values":[13.95,14,14.05,14.1],"format":".2f","titleX":-63,"titleY":61.6,"titleAlign":"center","titleBaseline":"middle","titleAngle":-90}},
 "yError":{"field":"e"}}},
{"data":{"name":"lc"},"mark":{"type":"point","filled":true,"color":"black","size":16,"opacity":1},
 "encoding":{"x":{"field":"t","type":"quantitative","title":"t","scale":{"domain":[2987.22,3015.4],"nice":false,"zero":false},"axis":null},
 "y":{"field":"m","type":"quantitative","title":"T mag","scale":{"domain":[13.941,14.104],"reverse":true,"nice":false,"zero":false}}}},
{"data":{"name":"vline"},"mark":{"type":"rule","color":"red","strokeWidth":2,"strokeDash":[7,3.5]},
 "encoding":{"x":{"field":"t","type":"quantitative","title":"t","scale":{"domain":[2987.22,3015.4],"nice":false,"zero":false},"axis":null}}},
{"data":{"name":"label"},"mark":{"type":"text","align":"left","baseline":"alphabetic","fontSize":16.7,"font":"DejaVu Sans","color":"black"},
 "encoding":{"x":{"field":"t","type":"quantitative","title":"t","scale":{"domain":[2987.22,3015.4],"nice":false,"zero":false},"axis":null},
 "y":{"field":"m","type":"quantitative","title":"T mag","scale":{"domain":[13.941,14.104],"reverse":true,"nice":false,"zero":false}},
 "text":{"field":"text"}}}
]
},
{
"width":496,"height":123.2,
"layer":[
{"data":{"name":"band"},"mark":{"type":"area","color":"red","opacity":1},
 "encoding":{"x":{"field":"t","type":"quantitative","title":"t","scale":{"domain":[2987.22,3015.4],"nice":false,"zero":false},"axis":null},
 "y":{"field":"lo","type":"quantitative","title":["Bkg (red)/","bkg_model (purple)"],"scale":{"domain":[-22.5,15.74],"nice":false,"zero":false},
  "axis":{"values":[-20,-10,0,10],"format":"d","titleX":-70,"titleY":61.6,"titleAlign":"center","titleBaseline":"middle","titleAngle":-90,"titleLineHeight":16.7}},
 "y2":{"field":"hi"}}},
{"data":{"name":"bkg"},"mark":{"type":"circle","color":"red","size":26,"opacity":1},
 "encoding":{"x":{"field":"t","type":"quantitative","title":"t","scale":{"domain":[2987.22,3015.4],"nice":false,"zero":false},"axis":null},
 "y":{"field":"b","type":"quantitative","title":["Bkg (red)/","bkg_model (purple)"],"scale":{"domain":[-22.5,15.74],"nice":false,"zero":false}}}},
{"data":{"name":"model"},"mark":{"type":"line","color":"#b414c8","strokeWidth":1.5,"point":{"filled":true,"size":9,"color":"#b414c8"}},
 "encoding":{"x":{"field":"t","type":"quantitative","title":"t","scale":{"domain":[2987.22,3015.4],"nice":false,"zero":false},"axis":null},
 "y":{"field":"v","type":"quantitative","title":["Bkg (red)/","bkg_model (purple)"],"scale":{"domain":[-22.5,15.74],"nice":false,"zero":false}}}}
]
},
{
"width":496,"height":123.2,
"layer":[
{"data":{"name":"lc"},"mark":{"type":"errorbar","color":"black","thickness":3.3},
 "encoding":{"x":{"field":"t","type":"quantitative","title":"BTJD \u22122\u2009457\u2009000","scale":{"domain":[2987.22,3015.4],"nice":false,"zero":false},
  "axis":{"values":[2990,2995,3000,3005,3010,3015],"format":"d","titleX":248,"titleY":41,"titleAlign":"center","titleBaseline":"alphabetic"}},
 "y":{"field":"n","type":"quantitative","title":["T mag","bkg_model"],"scale":{"domain":[13.9444,14.1038],"reverse":true,"nice":false,"zero":false},
  "axis":{"values":[13.95,14,14.05,14.1],"format":".2f","titleX":-80,"titleY":61.6,"titleAlign":"center","titleBaseline":"middle","titleAngle":-90,"titleLineHeight":16.7}},
 "yError":{"field":"e"}}},
{"data":{"name":"lc"},"mark":{"type":"point","filled":true,"color":"black","size":16,"opacity":1},
 "encoding":{"x":{"field":"t","type":"quantitative","title":"BTJD \u22122\u2009457\u2009000","scale":{"domain":[2987.22,3015.4],"nice":false,"zero":false}},
 "y":{"field":"n","type":"quantitative","title":["T mag","bkg_model"],"scale":{"domain":[13.9444,14.1038],"reverse":true,"nice":false,"zero":false}}}}
]
}
],
"config":{
 "font":"DejaVu Sans",
 "view":{"stroke":"black","strokeWidth":1.1},
 "axis":{"domainColor":"black","domainWidth":1.1,"tickColor":"black","tickWidth":1.1,"tickSize":4.9,"labelColor":"black","titleColor":"black","labelFont":"DejaVu Sans","titleFont":"DejaVu Sans","labelFontSize":13.9,"titleFontSize":13.9,"titleFontWeight":"normal","grid":false,"labelPadding":4}
}
}
